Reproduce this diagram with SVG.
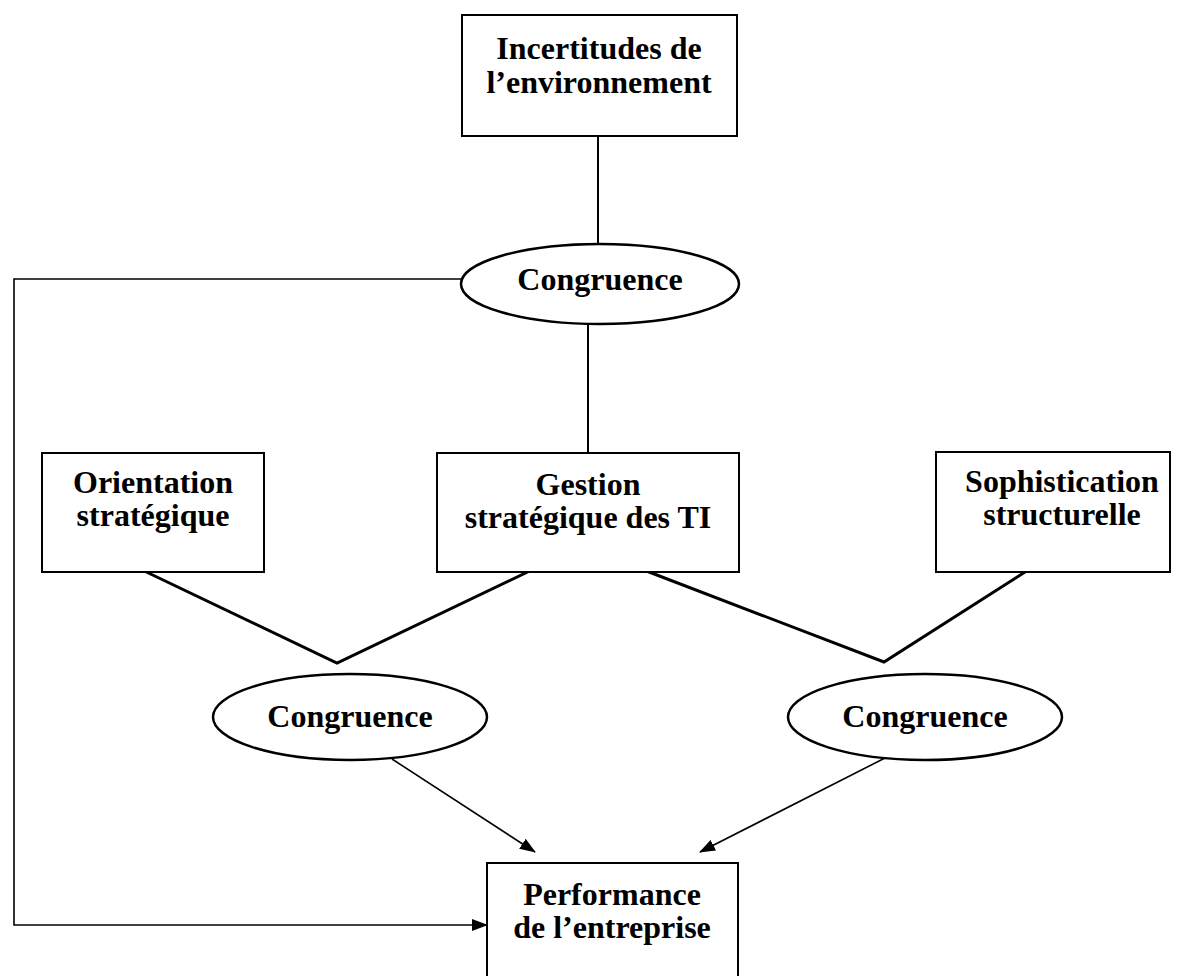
<svg xmlns="http://www.w3.org/2000/svg" width="1178" height="976" viewBox="0 0 1178 976">
<style>
.box{fill:#fff;stroke:#000;stroke-width:2}
.ell{fill:#fff;stroke:#000;stroke-width:2.5}
.t{font-family:"Liberation Serif","Times New Roman",serif;font-weight:bold;font-size:32px;fill:#000;text-anchor:middle}
.ln{fill:none;stroke:#000;stroke-width:2}
.vl{fill:none;stroke:#000;stroke-width:3}
.ar{fill:none;stroke:#000;stroke-width:1.6}
</style>
<defs>
<marker id="ah" markerWidth="16" markerHeight="12" refX="15" refY="6" orient="auto" markerUnits="userSpaceOnUse">
<path d="M0,0 L16,6 L0,12 Z" fill="#000"/>
</marker>
</defs>
<rect width="1178" height="976" fill="#fff"/>
<g id="connectors">
<line class="ln" x1="598" y1="136" x2="598" y2="244"/>
<line class="ln" x1="588" y1="324" x2="588" y2="453"/>
<polyline class="ar" points="462,279 14,279 14,925 487,925" marker-end="url(#ah)"/>
<polyline class="vl" points="138,568 337,663 538,567"/>
<polyline class="vl" points="636,567 884,662 1036,565"/>
<line class="ar" x1="392" y1="759" x2="535" y2="852" marker-end="url(#ah)"/>
<line class="ar" x1="885" y1="758" x2="700" y2="852" marker-end="url(#ah)"/>
</g>
<g id="incertitudes">
<rect class="box" x="462" y="15" width="275" height="121"/>
<text class="t" x="599" y="59">Incertitudes de</text>
<text class="t" x="599" y="93">l’environnement</text>
</g>
<g id="congruence-top">
<ellipse class="ell" cx="600" cy="284" rx="139" ry="40"/>
<text class="t" x="600" y="290">Congruence</text>
</g>
<g id="orientation">
<rect class="box" x="42" y="453" width="222" height="119"/>
<text class="t" x="153" y="493">Orientation</text>
<text class="t" x="153" y="526">stratégique</text>
</g>
<g id="gestion">
<rect class="box" x="437" y="453" width="302" height="119"/>
<text class="t" x="588" y="495">Gestion</text>
<text class="t" x="588" y="528">stratégique des TI</text>
</g>
<g id="sophistication">
<rect class="box" x="936" y="452" width="234" height="120"/>
<text class="t" x="1062" y="492">Sophistication</text>
<text class="t" x="1062" y="525">structurelle</text>
</g>
<g id="congruence-left">
<ellipse class="ell" cx="350" cy="717" rx="137" ry="43"/>
<text class="t" x="350" y="727">Congruence</text>
</g>
<g id="congruence-right">
<ellipse class="ell" cx="925" cy="717" rx="137" ry="43"/>
<text class="t" x="925" y="727">Congruence</text>
</g>
<g id="performance">
<rect class="box" x="487" y="863" width="251" height="130"/>
<text class="t" x="612" y="905">Performance</text>
<text class="t" x="612" y="938">de l’entreprise</text>
</g>
</svg>
